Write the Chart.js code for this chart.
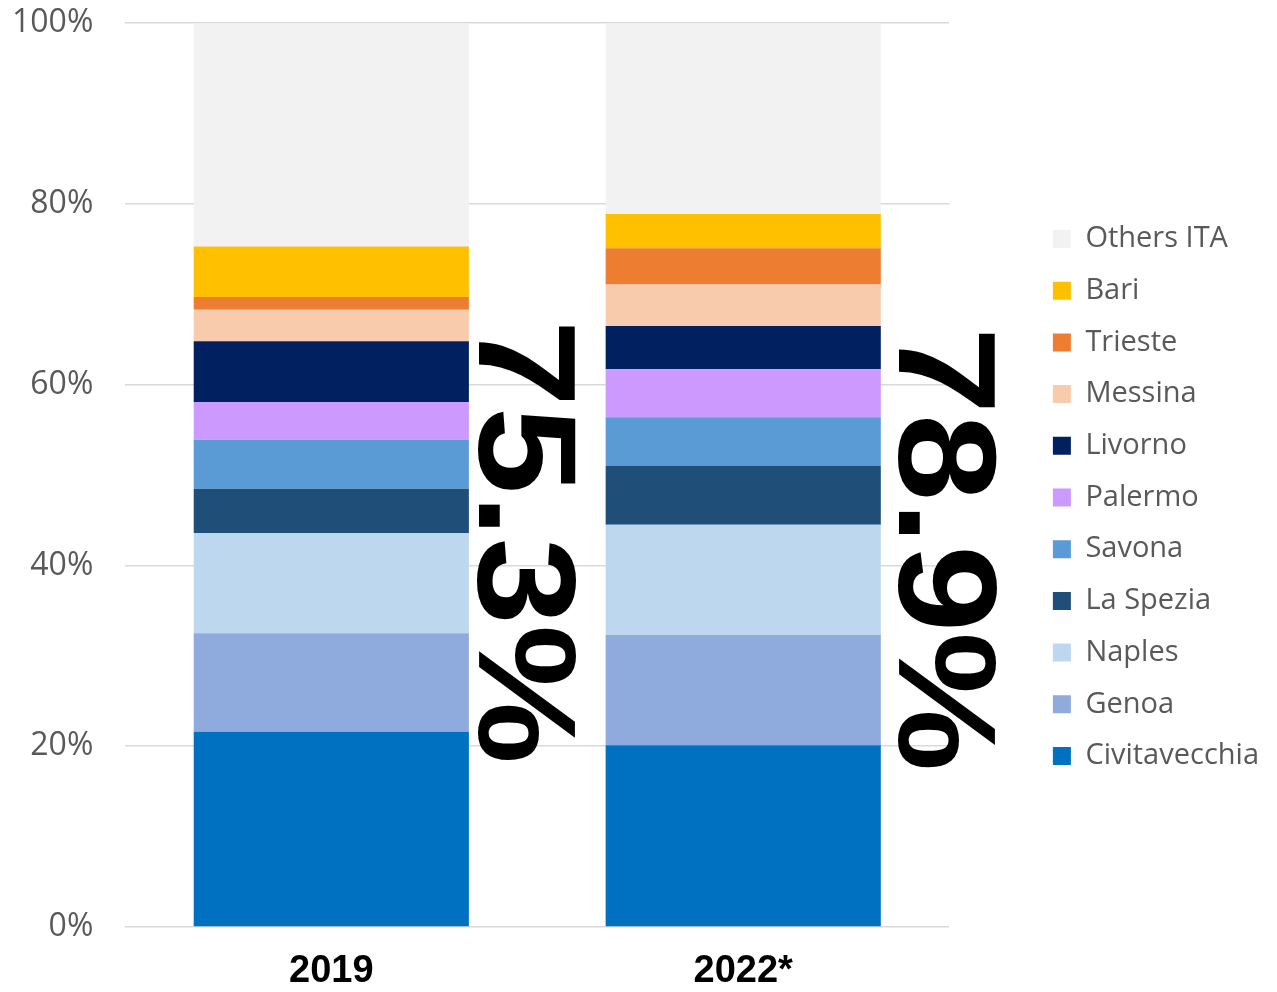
<!DOCTYPE html>
<html>
<head>
<meta charset="utf-8">
<script src="https://cdn.jsdelivr.net/npm/chart.js@4/dist/chart.umd.min.js"></script>
<style>
  html, body { margin: 0; padding: 0; background: #fff; }
  #wrap { width: 1277px; height: 992px; }
</style>
</head>
<body>
<div id="wrap"><canvas id="portsChart"></canvas></div>
<script>
// quote per porto (%), dal basso verso l'alto
const years = ['2019', '2022*'];
const ports = ['Civitavecchia', 'Genoa', 'Naples', 'La Spezia', 'Savona', 'Palermo', 'Livorno', 'Messina', 'Trieste', 'Bari', 'Others ITA'];
const share2019 = [21.6, 10.9, 11.1, 4.9, 5.4, 4.2, 6.7, 3.5, 1.4, 5.6, 24.7];
const share2022 = [20.1, 12.2, 12.2, 6.5, 5.4, 5.3, 4.8, 4.6, 4.0, 3.8, 21.1];
const yTicks = [0, 20, 40, 60, 80, 100];

const colori = ['#0070c0', '#8faadc', '#bdd7ee', '#1f4e79', '#5b9bd5', '#cc99ff', '#002060', '#f8cbad', '#ed7d31', '#ffc000', '#f2f2f2'];

const datasets = ports.map((p, i) => ({
    label: p,
    data: [share2019[i], share2022[i]],
    backgroundColor: colori[i],
    borderWidth: 0,
    barPercentage: 0.668,
    categoryPercentage: 1
}));

// totale dei porti principali (senza "Others ITA")
function totalePorti(serie) {
    const s = serie.slice(0, serie.length - 1).reduce((a, b) => a + b, 0);
    return (Math.round(s * 10) / 10).toFixed(1) + '%';
}
const totali = [totalePorti(share2019), totalePorti(share2022)];

// scritta verticale accanto a ogni barra
const totalLabels = {
    id: 'totalLabels',
    afterDatasetsDraw(chart) {
        const ctx = chart.ctx;
        const meta = chart.getDatasetMeta(chart.data.datasets.length - 1);
        const y = chart.scales.y;
        const shiftX = [60, 68];
        const centroY = [y.getPixelForValue(42.6), y.getPixelForValue(41.8)];
        const capH = 100;
        meta.data.forEach((bar, i) => {
            const cx = bar.x + bar.width / 2 + shiftX[i];
            ctx.save();
            ctx.translate(cx - capH / 2, centroY[i]);
            ctx.rotate(Math.PI / 2);
            ctx.scale(1.12, 1);
            ctx.font = 'bold 140px "Liberation Sans", Arial, sans-serif';
            ctx.fillStyle = '#000';
            ctx.textAlign = 'center';
            ctx.textBaseline = 'alphabetic';
            ctx.fillText(totali[i], 0, 0);
            ctx.restore();
        });
    }
};

const ctx = document.getElementById('portsChart').getContext('2d');
new Chart(ctx, {
    type: 'bar',
    data: { labels: years, datasets: datasets },
    options: {
        responsive: true,
        maintainAspectRatio: false,
        animation: false,
        layout: { padding: { top: 3, right: 8, bottom: 0, left: 8 } },
        plugins: {
            legend: {
                position: 'right',
                reverse: true,
                maxWidth: 320,
                labels: {
                    boxWidth: 18,
                    boxHeight: 18,
                    padding: 22.7,
                    color: '#595959',
                    font: { family: '"Open Sans", sans-serif', size: 29 }
                }
            },
            tooltip: { enabled: false }
        },
        scales: {
            x: {
                stacked: true,
                grid: { color: 'transparent', drawTicks: true, tickLength: 25 },
                border: { display: false },
                ticks: {
                    color: '#000',
                    padding: 1,
                    font: { family: '"Liberation Sans", Arial, sans-serif', size: 38, weight: 'bold', lineHeight: 1 }
                }
            },
            y: {
                stacked: true,
                min: 0,
                max: 100,
                afterBuildTicks: (scale) => { scale.ticks = yTicks.map(v => ({ value: v })); },
                grid: { color: '#d9d9d9', lineWidth: 1.5, drawTicks: true, tickLength: 28, tickColor: 'transparent' },
                border: { display: false },
                ticks: {
                    color: '#595959',
                    padding: 4,
                    font: { family: '"Open Sans", sans-serif', size: 32 },
                    callback: v => v + '%'
                }
            },
            spazio: {
                position: 'right',
                grid: { display: false },
                border: { display: false },
                ticks: { display: false },
                afterFit: (scale) => { scale.width = 81; }
            }
        }
    },
    plugins: [totalLabels]
});
</script>
</body>
</html>
